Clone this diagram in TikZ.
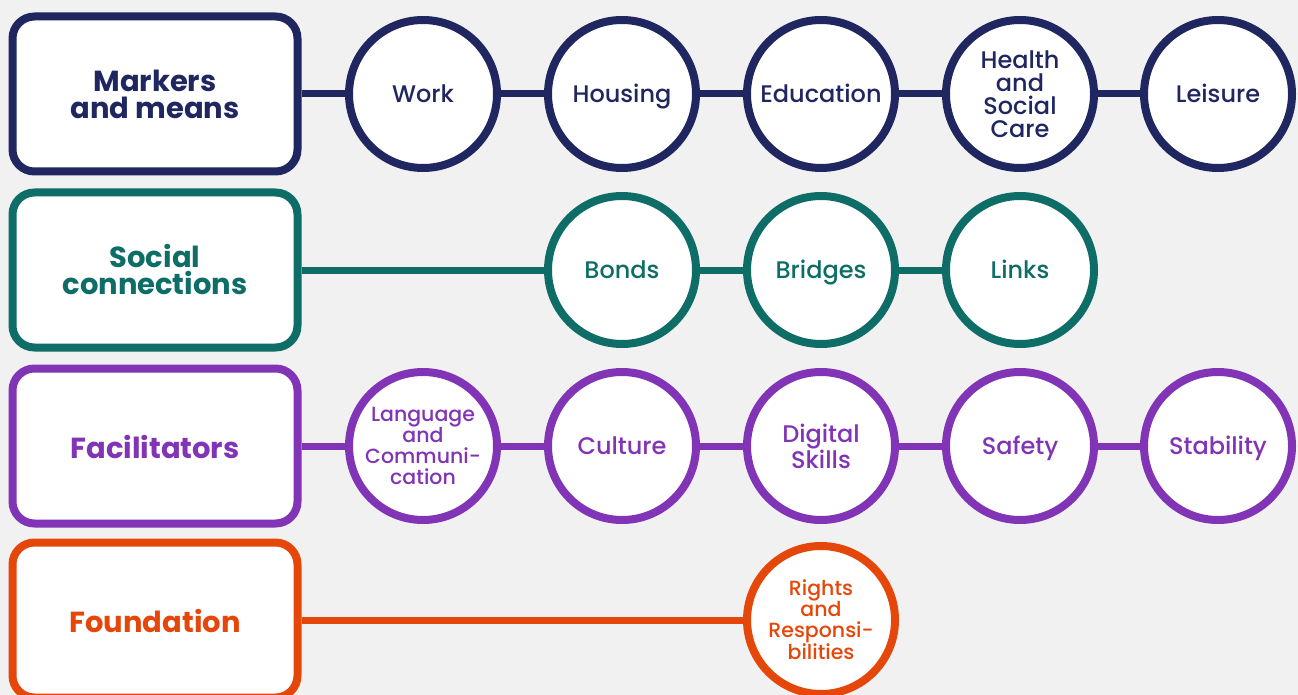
\documentclass[tikz,border=0pt]{standalone}
\usepackage{fontspec}
\setmainfont{Poppins}
\newfontfamily\medfont{Poppins}[UprightFont=* Medium]
\definecolor{bgc}{HTML}{F1F1F1}
\definecolor{navy}{HTML}{1F2660}
\definecolor{teal}{HTML}{0E6E67}
\definecolor{purp}{HTML}{8134B6}
\definecolor{orng}{HTML}{E5470A}
\tikzset{
  catbox/.style={draw=#1, text=#1, fill=white, line width=8pt, rounded corners=22pt,
    minimum width=285pt, minimum height=155pt, align=center,
    font=\fontsize{29}{27}\selectfont\bfseries},
  boxline/.style={text height=25pt, text depth=0pt},
  topic/.style={draw=#1, text=#1, fill=white, line width=8pt, circle, minimum size=148pt,
    inner sep=0pt, align=center, font=\medfont\fontsize{24}{23}\selectfont},
  smalltext/.style={font=\medfont\fontsize{20.5}{21}\selectfont},
  oneline/.style={text height=17pt, text depth=0pt},
  link/.style={draw=#1, line width=7pt}
}
\begin{document}
\begin{tikzpicture}[x=1pt,y=-1pt]
\fill[bgc] (0,0) rectangle (1298,695);
\useasboundingbox (0,0) rectangle (1298,695);

% Markers and means
\node[catbox=navy] (mm) at (155,94) {Markers\\and means};
\node[topic=navy, oneline] (work) at (423,94) {Work};
\node[topic=navy, oneline] (hous) at (622,94) {Housing};
\node[topic=navy, oneline] (educ) at (821,94) {Education};
\node[topic=navy] (hsc) at (1020,94) {Health\\and\\Social\\Care};
\node[topic=navy, oneline] (leis) at (1218,94) {Leisure};
\draw[link=navy] (mm) -- (work) (work) -- (hous) (hous) -- (educ) (educ) -- (hsc) (hsc) -- (leis);

% Social connections
\node[catbox=teal] (sc) at (155,270) {Social\\connections};
\node[topic=teal, oneline] (bond) at (622,270) {Bonds};
\node[topic=teal, oneline] (brid) at (821,270) {Bridges};
\node[topic=teal, oneline] (links) at (1020,270) {Links};
\draw[link=teal] (sc) -- (bond) (bond) -- (brid) (brid) -- (links);

% Facilitators
\node[catbox=purp, boxline] (fac) at (155,446) {Facilitators};
\node[topic=purp, smalltext] (lang) at (423,446) {Language\\and\\Communi-\\cation};
\node[topic=purp, oneline] (cult) at (622,446) {Culture};
\node[topic=purp] (digi) at (821,446) {Digital\\Skills};
\node[topic=purp, oneline] (safe) at (1020,446) {Safety};
\node[topic=purp, oneline] (stab) at (1218,446) {Stability};
\draw[link=purp] (fac) -- (lang) (lang) -- (cult) (cult) -- (digi) (digi) -- (safe) (safe) -- (stab);

% Foundation
\node[catbox=orng, boxline] (fnd) at (155,620) {Foundation};
\node[topic=orng, smalltext] (rr) at (821,620) {Rights\\and\\Responsi-\\bilities};
\draw[link=orng] (fnd) -- (rr);
\end{tikzpicture}
\end{document}
